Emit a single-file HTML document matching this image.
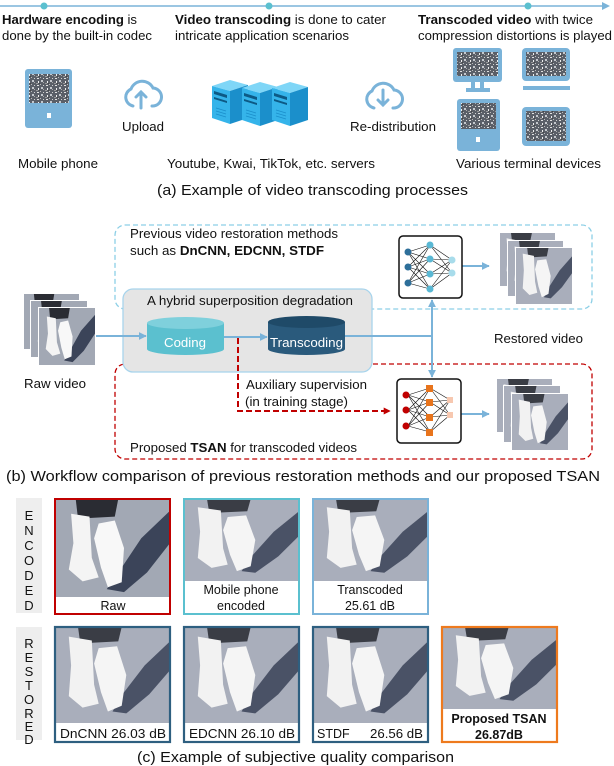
<!DOCTYPE html>
<html><head><meta charset="utf-8"><style>
html,body{margin:0;padding:0;background:#fff}
svg{display:block}
text{font-family:"Liberation Sans",Arial,sans-serif;fill:#111}
</style></head><body>
<svg width="614" height="766" viewBox="0 0 614 766" xmlns="http://www.w3.org/2000/svg">
<defs>
<pattern id="noise" width="9" height="7" patternUnits="userSpaceOnUse">
<rect width="9" height="7" fill="#5a5f68"/>
<rect x="1" y="1" width="2" height="1" fill="#e0e0e0"/><rect x="5" y="3" width="2" height="2" fill="#c4c8cd"/>
<rect x="2" y="4" width="1" height="2" fill="#eeeeee"/><rect x="7" y="5" width="1" height="1" fill="#aaa"/>
<rect x="4" y="0" width="1" height="1" fill="#bbb"/><rect x="0" y="6" width="2" height="1" fill="#999"/>
<rect x="7" y="1" width="1" height="1" fill="#d0d0d0"/><rect x="3" y="6" width="1" height="1" fill="#444"/>
</pattern>
<symbol id="fr" viewBox="0 0 100 100" preserveAspectRatio="none">
<rect width="100" height="100" fill="#a2a8b4"/>
<path d="M18 0 L55 0 L52 18 L20 20 Z" fill="#2a2c33"/>
<path d="M100 12 L100 45 L80 75 L60 95 L45 92 L58 70 L75 40 Z" fill="#3b4459"/>
<path d="M14 15 L30 18 L32 60 L38 80 L24 84 L12 72 L16 45 Z" fill="#f4f4f4"/>
<path d="M38 25 L52 22 L60 50 L58 85 L46 90 L40 70 L34 40 Z" fill="#f8f8f8"/>
</symbol>
<symbol id="fr2" viewBox="0 0 100 100" preserveAspectRatio="none">
<rect width="100" height="100" fill="#a9aebb"/>
<path d="M20 0 L58 0 L55 15 L22 17 Z" fill="#3a3d45"/>
<path d="M100 15 L100 45 L82 70 L62 90 L50 88 L60 68 L78 40 Z" fill="#4a5266"/>
<path d="M12 10 L32 14 L34 60 L38 80 L24 84 L12 72 L14 40 Z" fill="#f2f2f2"/>
<path d="M38 22 L54 20 L62 50 L58 82 L46 88 L40 68 L34 38 Z" fill="#f5f5f5"/>
</symbol>
<marker id="ab" viewBox="0 0 10 10" refX="9" refY="5" markerWidth="4" markerHeight="4" orient="auto-start-reverse"><path d="M0 0 L10 5 L0 10 Z" fill="#7ab3d9"/></marker>
<marker id="ar" viewBox="0 0 10 10" refX="9" refY="5" markerWidth="3.5" markerHeight="3.5" orient="auto"><path d="M0 0 L10 5 L0 10 Z" fill="#c00000"/></marker>
</defs>

<!-- (a) timeline -->
<line x1="0" y1="6" x2="604" y2="6" stroke="#7ab3d9" stroke-width="1.5"/>
<path d="M602 2 L610 6 L602 10 Z" fill="#7ab3d9"/>
<circle cx="44" cy="6" r="3.5" fill="#5bc0cf"/><circle cx="269" cy="6" r="3.5" fill="#5bc0cf"/><circle cx="528" cy="6" r="3.5" fill="#5bc0cf"/>
<g font-size="13">
<text x="2" y="24" textLength="135" lengthAdjust="spacingAndGlyphs"><tspan font-weight="bold">Hardware encoding</tspan> is</text>
<text x="2" y="40" textLength="150" lengthAdjust="spacingAndGlyphs">done by the built-in codec</text>
<text x="175" y="24" textLength="211" lengthAdjust="spacingAndGlyphs"><tspan font-weight="bold">Video transcoding</tspan> is done to cater</text>
<text x="175" y="40" textLength="174" lengthAdjust="spacingAndGlyphs">intricate application scenarios</text>
<text x="418" y="24" textLength="175" lengthAdjust="spacingAndGlyphs"><tspan font-weight="bold">Transcoded video</tspan> with twice</text>
<text x="418" y="40" textLength="194" lengthAdjust="spacingAndGlyphs">compression distortions is played</text>
</g>
<!-- phone -->
<rect x="25" y="69" width="47" height="59" rx="3" fill="#7ab3d9"/>
<rect x="29" y="74" width="40" height="29" fill="url(#noise)"/>
<rect x="47" y="113" width="4" height="5" fill="#fff"/>
<!-- clouds -->
<g fill="none" stroke="#7ab3d9" stroke-width="3" stroke-linecap="round">
<path d="M133 106 A9 9 0 0 1 131 89 A12 12 0 0 1 153 88 A9 9 0 0 1 152 106"/>
<path d="M141 108 V92 M136 97 L141 92 L146 97"/>
<path d="M374 108 A9 9 0 0 1 372 91 A12 12 0 0 1 394 90 A9 9 0 0 1 393 108"/>
<path d="M383 90 V105 M378 100 L383 105 L388 100"/>
</g>
<!-- servers -->
<g>
<g id="srv">
<path d="M212 86 L230 80 L248 85 L230 91 Z" fill="#7fd6f7"/>
<path d="M212 86 L230 91 L230 124 L212 118 Z" fill="#35b4ea"/>
<path d="M230 91 L248 85 L248 118 L230 124 Z" fill="#1b8fcb"/>
<path d="M214 91 L227 95 L227 98 L214 94 Z" fill="#0d5a85"/>
<path d="M214 97 L227 101 L227 103 L214 99 Z" fill="#0d5a85"/>
<path d="M216 108 L226 111 M216 111 L226 114 M216 114 L226 117" stroke="#1b8fcb" stroke-width="0.8"/>
</g>
<use href="#srv" transform="translate(30,2)"/>
<use href="#srv" transform="translate(60,2)"/>
</g>
<!-- terminals -->
<rect x="453" y="48" width="49" height="34" rx="3" fill="#7ab3d9"/>
<rect x="457" y="52" width="41" height="24" fill="url(#noise)"/>
<rect x="471" y="82" width="4" height="7" fill="#7ab3d9"/><rect x="480" y="82" width="4" height="7" fill="#7ab3d9"/>
<rect x="466" y="88" width="24" height="4" fill="#7ab3d9"/>
<rect x="522" y="48" width="48" height="33" rx="4" fill="#7ab3d9"/>
<rect x="526" y="52" width="40" height="24" fill="url(#noise)"/>
<rect x="523" y="86" width="47" height="4" fill="#7ab3d9"/>
<rect x="457" y="99" width="43" height="52" rx="3" fill="#7ab3d9"/>
<rect x="461" y="103" width="35" height="26" fill="url(#noise)"/>
<rect x="476" y="137" width="4" height="5" fill="#fff"/>
<rect x="522" y="107" width="48" height="39" rx="4" fill="#7ab3d9"/>
<rect x="526" y="111" width="40" height="30" fill="url(#noise)"/>
<g font-size="13">
<text x="122" y="131" textLength="42" lengthAdjust="spacingAndGlyphs">Upload</text>
<text x="350" y="131" textLength="86" lengthAdjust="spacingAndGlyphs">Re-distribution</text>
<text x="18" y="168" textLength="80" lengthAdjust="spacingAndGlyphs">Mobile phone</text>
<text x="167" y="168" textLength="208" lengthAdjust="spacingAndGlyphs">Youtube, Kwai, TikTok, etc. servers</text>
<text x="456" y="168" textLength="145" lengthAdjust="spacingAndGlyphs">Various terminal devices</text>
</g>
<text x="157" y="195" font-size="14.5" textLength="311" lengthAdjust="spacingAndGlyphs">(a) Example of video transcoding processes</text>

<!-- (b) -->
<rect x="115" y="225" width="477" height="84" rx="10" fill="none" stroke="#8ccfe6" stroke-width="1.3" stroke-dasharray="5,3"/>
<rect x="115" y="364" width="477" height="95" rx="10" fill="none" stroke="#c00000" stroke-width="1.3" stroke-dasharray="5,3"/>
<rect x="123" y="289" width="249" height="83" rx="10" fill="#e5e5e5" stroke="#a8d4ec" stroke-width="1.3"/>
<g font-size="12.5">
<text x="130" y="238" textLength="208" lengthAdjust="spacingAndGlyphs">Previous video restoration methods</text>
<text x="130" y="255" textLength="194" lengthAdjust="spacingAndGlyphs">such as <tspan font-weight="bold">DnCNN, EDCNN, STDF</tspan></text>
<text x="147" y="305" textLength="206" lengthAdjust="spacingAndGlyphs">A hybrid superposition degradation</text>
<text x="494" y="343" textLength="89" lengthAdjust="spacingAndGlyphs">Restored video</text>
<text x="24" y="388" textLength="62" lengthAdjust="spacingAndGlyphs">Raw video</text>
<text x="246" y="389" textLength="121" lengthAdjust="spacingAndGlyphs">Auxiliary supervision</text>
<text x="245" y="406" textLength="103" lengthAdjust="spacingAndGlyphs">(in training stage)</text>
<text x="130" y="452" textLength="227" lengthAdjust="spacingAndGlyphs">Proposed <tspan font-weight="bold">TSAN</tspan> for transcoded videos</text>
</g>
<!-- cylinders -->
<path d="M147 323 V349 A38.5 6 0 0 0 224 349 V323 Z" fill="#5bc0cf"/>
<ellipse cx="185.5" cy="323" rx="38.5" ry="6" fill="#7fd0dc"/>
<text x="164" y="347" font-size="12.5" style="fill:#fff" textLength="42" lengthAdjust="spacingAndGlyphs">Coding</text>
<path d="M268 322 V349 A38.5 6 0 0 0 345 349 V322 Z" fill="#2a5a7c"/>
<ellipse cx="306.5" cy="322" rx="38.5" ry="6" fill="#1f4a68"/>
<text x="270" y="347" font-size="12.5" style="fill:#fff" textLength="73" lengthAdjust="spacingAndGlyphs">Transcoding</text>
<!-- raw video stack -->
<rect x="23" y="293" width="57" height="57" fill="#fff"/><use href="#fr" x="24" y="294" width="55" height="55"/>
<rect x="30" y="300" width="58" height="58" fill="#fff"/><use href="#fr" x="31" y="301" width="56" height="56"/>
<rect x="38" y="307" width="58" height="59" fill="#fff"/><use href="#fr" x="39" y="308" width="56" height="57"/>
<!-- arrows -->
<g stroke="#7ab3d9" stroke-width="2" fill="none">
<line x1="96" y1="336" x2="146" y2="336" marker-end="url(#ab)"/>
<line x1="224" y1="337" x2="267" y2="337" marker-end="url(#ab)"/>
<line x1="345" y1="336" x2="432" y2="336"/>
<line x1="432" y1="336" x2="432" y2="300" marker-end="url(#ab)"/>
<line x1="432" y1="336" x2="432" y2="377" marker-end="url(#ab)"/>
<line x1="462" y1="266" x2="489" y2="266" marker-end="url(#ab)"/>
<line x1="461" y1="414" x2="489" y2="414" marker-end="url(#ab)"/>
</g>
<path d="M238 338 V411 H390" fill="none" stroke="#c00000" stroke-width="2" stroke-dasharray="6,3" marker-end="url(#ar)"/>
<!-- NN top -->
<rect x="399" y="236" width="63" height="62" rx="4" fill="#fff" stroke="#111" stroke-width="1.5"/>
<g stroke="#111" stroke-width="0.6">
<path d="M408 252 L430 245 M408 252 L430 259 M408 252 L430 274 M408 252 L430 289 M408 267 L430 245 M408 267 L430 259 M408 267 L430 274 M408 267 L430 289 M408 283 L430 245 M408 283 L430 259 M408 283 L430 274 M408 283 L430 289 M430 245 L452 260 M430 245 L452 273 M430 259 L452 260 M430 259 L452 273 M430 274 L452 260 M430 274 L452 273 M430 289 L452 260 M430 289 L452 273"/>
<path transform="translate(-2,143)" d="M410 252 L432 245 M410 252 L432 259 M410 252 L432 274 M410 252 L432 289 M410 267 L432 245 M410 267 L432 259 M410 267 L432 274 M410 267 L432 289 M410 283 L432 245 M410 283 L432 259 M410 283 L432 274 M410 283 L432 289 M432 245 L452 257 M432 245 L452 272 M432 259 L452 257 M432 259 L452 272 M432 274 L452 257 M432 274 L452 272 M432 289 L452 257 M432 289 L452 272"/>
</g>
<g fill="#2e6f9a"><circle cx="408" cy="252" r="3.5"/><circle cx="408" cy="267" r="3.5"/><circle cx="408" cy="283" r="3.5"/></g>
<g fill="#5ab8d4"><circle cx="430" cy="245" r="3.5"/><circle cx="430" cy="259" r="3.5"/><circle cx="430" cy="274" r="3.5"/><circle cx="430" cy="289" r="3.5"/></g>
<g fill="#a8dceb"><circle cx="452" cy="260" r="3.5"/><circle cx="452" cy="273" r="3.5"/></g>
<!-- NN bottom -->
<rect x="397" y="379" width="64" height="64" rx="4" fill="none" stroke="#111" stroke-width="1.5"/>
<g fill="#c00000"><circle cx="406" cy="395" r="3.5"/><circle cx="406" cy="410" r="3.5"/><circle cx="406" cy="426" r="3.5"/></g>
<g fill="#e8741c"><rect x="426" y="385" width="7" height="7"/><rect x="426" y="399" width="7" height="7"/><rect x="426" y="414" width="7" height="7"/><rect x="426" y="429" width="7" height="7"/></g>
<g fill="#f7c8b0"><rect x="447" y="397" width="6" height="6"/><rect x="447" y="412" width="6" height="6"/></g>
<!-- restored stacks -->
<rect x="499" y="232" width="57" height="55" fill="#fff"/><use href="#fr2" x="500" y="233" width="55" height="53"/>
<rect x="507" y="240" width="57" height="57" fill="#fff"/><use href="#fr2" x="508" y="241" width="55" height="55"/>
<rect x="515" y="247" width="58" height="58" fill="#fff"/><use href="#fr2" x="516" y="248" width="56" height="56"/>
<rect x="496" y="378" width="57" height="55" fill="#fff"/><use href="#fr2" x="497" y="379" width="55" height="53"/>
<rect x="503" y="385" width="58" height="58" fill="#fff"/><use href="#fr2" x="504" y="386" width="56" height="56"/>
<rect x="511" y="393" width="58" height="58" fill="#fff"/><use href="#fr2" x="512" y="394" width="56" height="56"/>
<text x="6" y="481" font-size="14.5" textLength="594" lengthAdjust="spacingAndGlyphs">(b) Workflow comparison of previous restoration methods and our proposed TSAN</text>

<!-- (c) -->
<rect x="16" y="498" width="26" height="115" fill="#eeeeee"/>
<rect x="16" y="627" width="26" height="113" fill="#eeeeee"/>
<g font-size="13" text-anchor="middle">
<text x="29" y="520">E</text><text x="29" y="535">N</text><text x="29" y="550">C</text><text x="29" y="565">O</text><text x="29" y="580">D</text><text x="29" y="595">E</text><text x="29" y="610">D</text>
<text x="29" y="648">R</text><text x="29" y="662">E</text><text x="29" y="676">S</text><text x="29" y="690">T</text><text x="29" y="704">O</text><text x="29" y="718">R</text><text x="29" y="731">E</text><text x="29" y="744">D</text>
</g>
<!-- encoded row -->
<use href="#fr" x="55" y="499" width="115" height="98"/>
<rect x="55" y="597" width="115" height="17" fill="#fff"/>
<rect x="55" y="499" width="115" height="115" fill="none" stroke="#c00000" stroke-width="2"/>
<use href="#fr2" x="184" y="499" width="115" height="82"/>
<rect x="184" y="581" width="115" height="33" fill="#fff"/>
<rect x="184" y="499" width="115" height="115" fill="none" stroke="#5bc0cf" stroke-width="2"/>
<use href="#fr2" x="313" y="499" width="115" height="82"/>
<rect x="313" y="581" width="115" height="33" fill="#fff"/>
<rect x="313" y="499" width="115" height="115" fill="none" stroke="#7ab3d9" stroke-width="2"/>
<g font-size="12.5" text-anchor="middle">
<text x="113" y="610">Raw</text>
<text x="241" y="594">Mobile phone</text><text x="241" y="610">encoded</text>
<text x="370" y="594">Transcoded</text><text x="370" y="610">25.61 dB</text>
</g>
<!-- restored row -->
<use href="#fr2" x="55" y="627" width="115" height="96"/><rect x="55" y="723" width="115" height="19" fill="#fff"/>
<rect x="55" y="627" width="115" height="115" fill="none" stroke="#2e5f80" stroke-width="2.2"/>
<use href="#fr2" x="184" y="627" width="115" height="96"/><rect x="184" y="723" width="115" height="19" fill="#fff"/>
<rect x="184" y="627" width="115" height="115" fill="none" stroke="#2e5f80" stroke-width="2.2"/>
<use href="#fr2" x="313" y="627" width="115" height="96"/><rect x="313" y="723" width="115" height="19" fill="#fff"/>
<rect x="313" y="627" width="115" height="115" fill="none" stroke="#2e5f80" stroke-width="2.2"/>
<use href="#fr2" x="442" y="627" width="115" height="82"/><rect x="442" y="709" width="115" height="33" fill="#fff"/>
<rect x="442" y="627" width="115" height="115" fill="none" stroke="#ee7a1e" stroke-width="2.2"/>
<g font-size="12.5">
<text x="60" y="738" textLength="106" lengthAdjust="spacingAndGlyphs">DnCNN  26.03 dB</text>
<text x="189" y="738" textLength="106" lengthAdjust="spacingAndGlyphs">EDCNN 26.10 dB</text>
<text x="317" y="738">STDF</text><text x="370" y="738" textLength="53" lengthAdjust="spacingAndGlyphs">26.56 dB</text>
<text x="499" y="723" text-anchor="middle" font-weight="bold">Proposed TSAN</text>
<text x="499" y="739" text-anchor="middle" font-weight="bold">26.87dB</text>
</g>
<text x="137" y="762" font-size="14.5" textLength="317" lengthAdjust="spacingAndGlyphs">(c) Example of subjective quality comparison</text>
</svg>
</body></html>
